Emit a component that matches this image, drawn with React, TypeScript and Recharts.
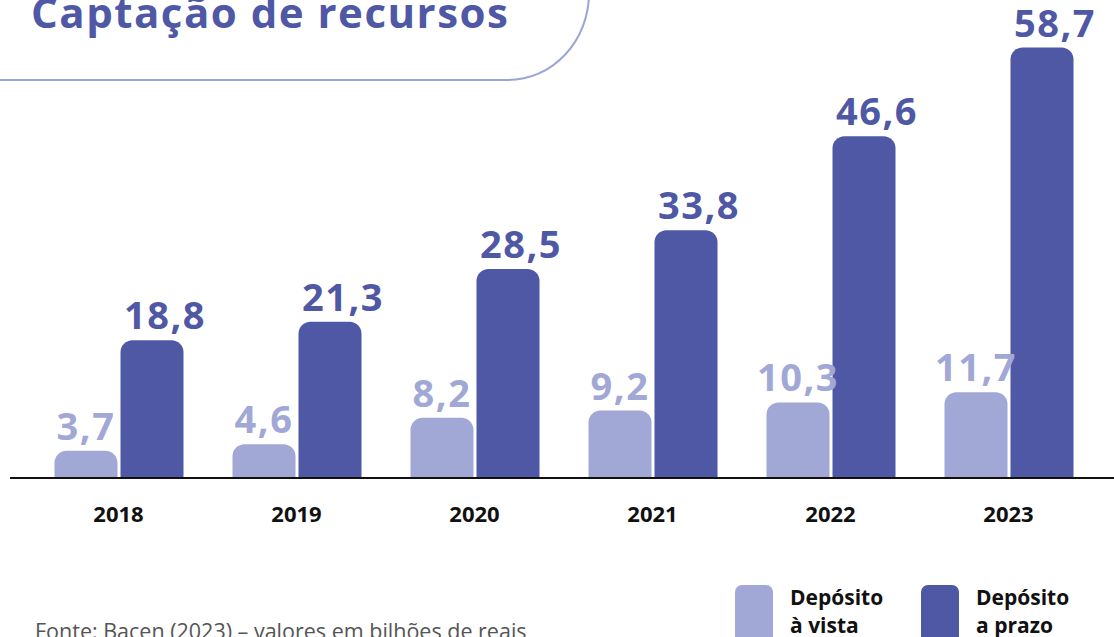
import { BarChart, Bar, XAxis, YAxis, LabelList, Legend } from "recharts";

const years = ["2018", "2019", "2020", "2021", "2022", "2023"];
const depositoVista = [3.7, 4.6, 8.2, 9.2, 10.3, 11.7];
const depositoPrazo = [18.8, 21.3, 28.5, 33.8, 46.6, 58.7];

const seriesNames = ["Depósito\nà vista", "Depósito\na prazo"];

const DARK = "#4f58a4";
const LIGHT = "#a1a8d6";
const FONT = "'Open Sans', 'Noto Sans', sans-serif";

const data = years.map((year, i) => ({
  year,
  vista: depositoVista[i],
  prazo: depositoPrazo[i],
}));

const fmt = (v: number) => v.toFixed(1).replace(".", ",");

const makeLabel = (color: string, shift: number) => (props: any) => {
  const { x, y, width, value } = props;
  return (
    <text
      x={Number(x) + Number(width) / 2 + shift}
      y={Number(y) - 11}
      textAnchor="middle"
      fill={color}
      fontSize={38}
      fontWeight={700}
      letterSpacing={1.5}
      fontFamily={FONT}
    >
      {fmt(Number(value))}
    </text>
  );
};

function LegendBox() {
  const items = [
    { color: LIGHT, name: seriesNames[0] },
    { color: DARK, name: seriesNames[1] },
  ];
  return (
    <div style={{ display: "flex", fontFamily: FONT }}>
      {items.map((it, i) => (
        <div key={i} style={{ display: "flex", width: i === 0 ? 186 : 190 }}>
          <div
            style={{
              width: 38,
              height: 70,
              marginTop: 2,
              borderRadius: 7,
              background: it.color,
            }}
          />
          <div
            style={{
              marginLeft: 17,
              fontSize: 21,
              fontWeight: 700,
              lineHeight: "28px",
              color: "#111",
              whiteSpace: "pre",
            }}
          >
            {it.name}
          </div>
        </div>
      ))}
    </div>
  );
}

export default function App() {
  return (
    <div
      style={{
        position: "absolute",
        left: 0,
        top: 0,
        width: 1114,
        height: 637,
        overflow: "hidden",
        background: "#fff",
        fontFamily: FONT,
      }}
    >
      <div
        style={{
          position: "absolute",
          left: -3,
          top: -40,
          width: 593,
          height: 121,
          boxSizing: "border-box",
          border: "2.5px solid #9ba4d9",
          borderBottomRightRadius: "82px 88px",
        }}
      />
      <BarChart
        width={1114}
        height={637}
        data={data}
        margin={{ top: 38, right: 0, left: 10, bottom: 99 }}
        barSize={63}
        barGap={3}
      >
        <YAxis hide domain={[0, 60]} />
        <XAxis
          dataKey="year"
          height={60}
          interval={0}
          tickLine={false}
          tickMargin={22}
          padding={{ left: 19.5, right: 16.5 }}
          axisLine={{ stroke: "#111", strokeWidth: 2 }}
          tick={{ fill: "#111", fontSize: 22, fontWeight: 700, fontFamily: FONT }}
        />
        <Legend
          layout="vertical"
          align="center"
          verticalAlign="middle"
          wrapperStyle={{ position: "absolute", left: 735, top: 583, width: 380, height: 60 }}
          content={() => <LegendBox />}
        />
        <Bar dataKey="vista" fill={LIGHT} radius={[12, 12, 0, 0]} isAnimationActive={false}>
          <LabelList dataKey="vista" content={makeLabel(LIGHT, 0)} />
        </Bar>
        <Bar dataKey="prazo" fill={DARK} radius={[12, 12, 0, 0]} isAnimationActive={false}>
          <LabelList dataKey="prazo" content={makeLabel(DARK, 13)} />
        </Bar>
      </BarChart>
      <svg
        width={1114}
        height={637}
        style={{ position: "absolute", left: 0, top: 0, pointerEvents: "none" }}
      >
        <text x={31} y={28} fill={DARK} fontSize={42} fontWeight={700} letterSpacing={1.5} fontFamily={FONT}>
          Captação de recursos
        </text>
        <text x={35} y={639} fill="#555" fontSize={21.5} fontFamily={FONT}>
          Fonte: Bacen (2023) – valores em bilhões de reais
        </text>
      </svg>
    </div>
  );
}
